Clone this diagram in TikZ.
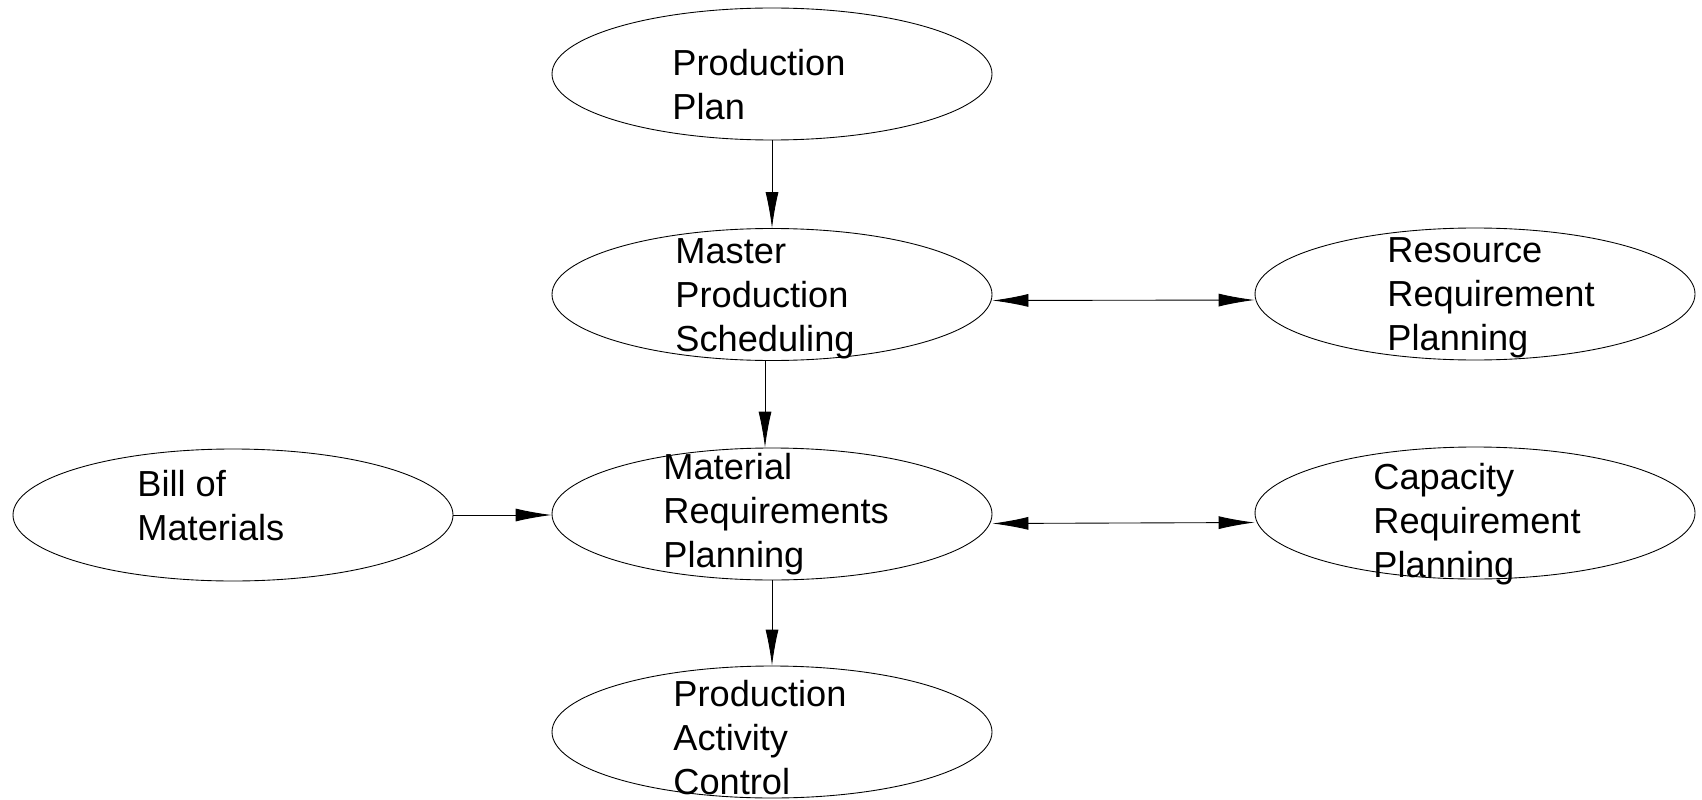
\documentclass[tikz,border=0pt]{standalone}
\usepackage{fontspec}
\setmainfont{Liberation Sans}
\usetikzlibrary{shapes.geometric,arrows.meta}

\tikzset{
  proc/.style={draw, ellipse, line width=0.5pt, minimum width=8.8cm, minimum height=2.64cm, inner sep=0pt},
  lbl/.style={anchor=north west, inner sep=0pt, align=left, font=\fontsize{20.6}{25}\selectfont}
}

\begin{document}
\begin{tikzpicture}[>={Latex[length=7.2mm,width=2.6mm]}, line width=0.5pt]

\useasboundingbox (0,0) rectangle (34.04,15.98);

\node[proc] (pp)  at (15.44,14.50) {};
\node[proc] (mps) at (15.44,10.09) {};
\node[proc] (mrp) at (15.44,5.70) {};
\node[proc] (pac) at (15.44,1.34) {};
\node[proc] (bom) at (4.66,5.68) {};
\node[proc] (rrp) at (29.50,10.10) {};
\node[proc] (crp) at (29.50,5.72) {};

\node[lbl] (pptext)  at (13.44,15.00) {Production\\Plan};
\node[lbl] (mpstext) at (13.50,11.22) {Master\\Production\\Scheduling};
\node[lbl] (mrptext) at (13.26,6.92) {Material\\Requirements\\Planning};
\node[lbl] (pactext) at (13.46,2.38) {Production\\Activity\\Control};
\node[lbl] (bomtext) at (2.74,6.58) {Bill of\\Materials};
\node[lbl] (rrptext) at (27.74,11.23) {Resource\\Requirement\\Planning};
\node[lbl] (crptext) at (27.46,6.72) {Capacity\\Requirement\\Planning};

\draw [->] (pp) -- (mps);
\draw [->] ([xshift=-0.14cm]mps.south) -- ([xshift=-0.14cm]mrp.north);
\draw [->] (mrp) -- (pac);
\draw [->] (bom.east) -- (bom.east -| mrp.west);
\draw [<->] ([yshift=-0.12cm]mps.east) -- ([yshift=-0.12cm]rrp.west);
\draw [<->] ([yshift=-0.19cm]mrp.east) -- ([yshift=-0.19cm]crp.west);

\end{tikzpicture}
\end{document}
